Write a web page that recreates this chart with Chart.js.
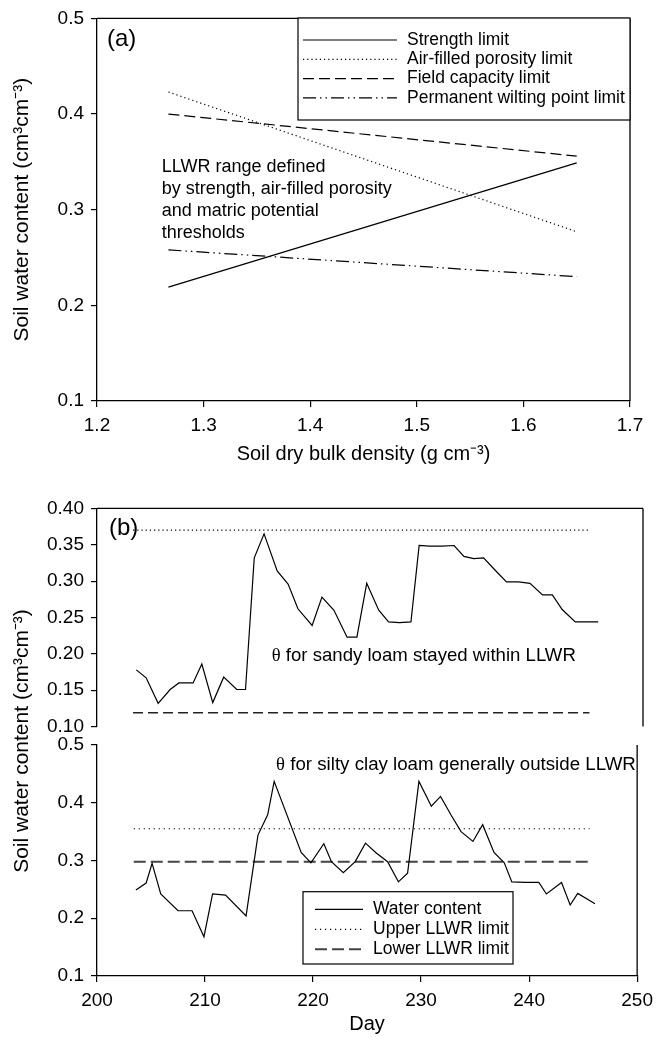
<!DOCTYPE html>
<html>
<head>
<meta charset="utf-8">
<script src="https://cdn.jsdelivr.net/npm/chart.js@4.4.1/dist/chart.umd.min.js"></script>
<style>
    html, body { margin: 0; padding: 0; background: #fff; }
    #wrap { position: relative; width: 660px; height: 1037px; overflow: hidden; }
    canvas { position: absolute; left: 0; }
</style>
</head>
<body>
<div id="wrap">
    <canvas id="chartA" width="660" height="480" style="top:0"></canvas>
    <canvas id="chartLower" width="660" height="547" style="top:490px"></canvas>
    <canvas id="chartUpper" width="660" height="255" style="top:490px"></canvas>
</div>
<script>
// panel (a): limits against bulk density
const densityEnds = [1.267, 1.65];
const strengthLimit = [0.219, 0.349];
const airFilledLimit = [0.423, 0.277];
const fieldCapacityLimit = [0.400, 0.356];
const wiltingPointLimit = [0.258, 0.230];
const densityTicks = [1.2, 1.3, 1.4, 1.5, 1.6, 1.7];
const thetaTicksA = [0.1, 0.2, 0.3, 0.4, 0.5];

// panel (b) top: sandy loam
const sandyDays = [203.6, 204.5, 205.6, 206.7, 207.5, 208.8, 209.6, 210.6, 211.6, 212.8, 213.6, 214.4, 215.3, 216.5, 217.5,
    218.4, 219.7, 220.6, 221.7, 222.9, 223.8, 224.7, 225.8, 226.7, 227.7, 228.75, 229.5, 230.4, 231.6, 232.7,
    233.6, 234.5, 235.4, 236.4, 237.5, 238.6, 239.65, 240.8, 241.7, 242.6, 243.8, 244.8, 245.9];
const sandyTheta = [0.178, 0.167, 0.132, 0.151, 0.160, 0.160, 0.186, 0.133, 0.168, 0.151, 0.151, 0.332, 0.365, 0.314, 0.296,
    0.262, 0.239, 0.278, 0.260, 0.223, 0.223, 0.297, 0.260, 0.244, 0.243, 0.244, 0.349, 0.348, 0.348, 0.349,
    0.334, 0.331, 0.332, 0.316, 0.299, 0.299, 0.297, 0.281, 0.281, 0.261, 0.244, 0.244, 0.244];
const sandyLimitDays = [203.3, 245.1];
const sandyUpper = [0.370, 0.370];
const sandyLower = [0.119, 0.119];
const thetaTicksSandy = [0.10, 0.15, 0.20, 0.25, 0.30, 0.35, 0.40];

// panel (b) bottom: silty clay loam
const siltyDays = [203.6, 204.55, 205.1, 205.9, 207.5, 208.8, 209.9, 210.7, 211.9, 213.8, 214.9, 215.8, 216.4, 218.9, 219.8,
    221.0, 221.7, 222.8, 223.9, 224.85, 225.85, 226.9, 227.9, 228.75, 229.8, 230.95, 231.8, 232.8, 233.7, 234.8,
    235.7, 236.75, 237.7, 238.4, 239.65, 240.9, 241.6, 243.0, 243.8, 244.5, 246.1];
const siltyTheta = [0.249, 0.261, 0.295, 0.242, 0.213, 0.213, 0.168, 0.242, 0.240, 0.204, 0.344, 0.379, 0.437, 0.314, 0.296,
    0.329, 0.298, 0.279, 0.298, 0.330, 0.313, 0.298, 0.263, 0.278, 0.437, 0.394, 0.411, 0.378, 0.350, 0.333,
    0.362, 0.314, 0.296, 0.263, 0.262, 0.262, 0.242, 0.262, 0.223, 0.243, 0.225];
const siltyLimitDays = [203.4, 245.6];
const siltyUpper = [0.355, 0.355];
const siltyLower = [0.298, 0.298];
const thetaTicksSilty = [0.1, 0.2, 0.3, 0.4, 0.5];
const dayTicks = [200, 210, 220, 230, 240, 250];

const SANS = '"Liberation Sans", Arial, sans-serif';
const SERIF = '"Liberation Serif", "Times New Roman", serif';
const pts = (xs, ys) => xs.map((x, i) => ({ x, y: ys[i] }));

const framePlugin = {
    id: 'frame',
    afterDatasetsDraw(chart, args, opts) {
        const { ctx, chartArea: a } = chart;
        ctx.save();
        ctx.strokeStyle = opts.color || '#000';
        ctx.lineWidth = opts.width || 1.3;
        ctx.beginPath();
        (opts.sides || []).forEach(s => {
            if (s === 'top') { ctx.moveTo(a.left, a.top); ctx.lineTo(a.right, a.top); }
            if (s === 'right') { ctx.moveTo(a.right, a.top); ctx.lineTo(a.right, a.bottom); }
        });
        ctx.stroke();
        ctx.restore();
    }
};

// free text placed in data coordinates
const notesPlugin = {
    id: 'notes',
    afterDraw(chart, args, opts) {
        const { ctx, scales } = chart;
        ctx.save();
        ctx.fillStyle = '#000';
        (opts.items || []).forEach(it => {
            const x = scales.x.getPixelForValue(it.x);
            const y = scales.y.getPixelForValue(it.y);
            ctx.textBaseline = it.baseline || 'alphabetic';
            it.lines.forEach((line, i) => {
                let cx = x;
                if (it.symbol && i === 0) {
                    ctx.font = `${it.size}px ${SERIF}`;
                    ctx.fillText(it.symbol, cx, y);
                    cx += ctx.measureText(it.symbol).width;
                }
                ctx.font = `${it.size}px ${SANS}`;
                ctx.fillText(line, cx, y + i * (it.lineHeight || 0));
            });
        });
        ctx.restore();
    }
};

// boxed legend built from the chart's own datasets
const boxLegendPlugin = {
    id: 'boxLegend',
    afterDraw(chart, args, o) {
        if (!o.width) return;
        const { ctx } = chart;
        ctx.save();
        ctx.fillStyle = '#fff';
        ctx.fillRect(o.left, o.top, o.width, o.height);
        ctx.strokeStyle = '#000';
        ctx.lineWidth = 1.2;
        ctx.strokeRect(o.left, o.top, o.width, o.height);
        ctx.font = `${o.size}px ${SANS}`;
        ctx.textBaseline = 'middle';
        chart.data.datasets.forEach((ds, i) => {
            const y = o.top + o.firstRow + i * o.rowStep;
            ctx.save();
            ctx.strokeStyle = ds.borderColor;
            ctx.lineWidth = ds.borderWidth;
            ctx.setLineDash(ds.borderDash || []);
            ctx.beginPath();
            ctx.moveTo(o.left + o.lineStart, y);
            ctx.lineTo(o.left + o.lineEnd, y);
            ctx.stroke();
            ctx.restore();
            ctx.fillStyle = '#000';
            ctx.fillText(ds.label, o.left + o.textStart, y);
        });
        ctx.restore();
    }
};

// shared y title for panel (b)
const sideTitlePlugin = {
    id: 'sideTitle',
    afterDraw(chart, args, o) {
        if (!o.text) return;
        const { ctx } = chart;
        ctx.save();
        ctx.translate(o.x, o.y);
        ctx.rotate(-Math.PI / 2);
        ctx.font = `${o.size}px ${SANS}`;
        ctx.fillStyle = '#000';
        ctx.textAlign = 'center';
        ctx.textBaseline = 'middle';
        ctx.fillText(o.text, 0, 0);
        ctx.restore();
    }
};

function axis(min, max, tickVals, digits, extra) {
    return Object.assign({
        type: 'linear',
        min, max,
        afterBuildTicks: s => { s.ticks = tickVals.map(v => ({ value: v })); },
        ticks: { color: '#000', font: { family: SANS, size: 19 }, padding: 7, maxRotation: 0, autoSkip: false,
            callback: v => Number(v).toFixed(digits) },
        grid: { display: true, drawOnChartArea: false, drawTicks: true, tickLength: 6, color: '#000', tickColor: '#000', lineWidth: 1.2 },
        border: { display: true, color: '#000', width: 1.3 }
    }, extra || {});
}

const baseOptions = {
    responsive: false,
    animation: false,
    events: [],
    elements: { point: { radius: 0 }, line: { tension: 0, fill: false } }
};

function limitLine(label, xs, ys, dash, width, color) {
    return { label, data: pts(xs, ys), borderColor: color || '#000', borderWidth: width || 1.2, borderDash: dash };
}

// ---------- panel (a)
new Chart(document.getElementById('chartA'), {
    type: 'line',
    data: {
        datasets: [
            limitLine('Strength limit', densityEnds, strengthLimit, []),
            limitLine('Air-filled porosity limit', densityEnds, airFilledLimit, [1.2, 3]),
            limitLine('Field capacity limit', densityEnds, fieldCapacityLimit, [11, 5]),
            limitLine('Permanent wilting point limit', densityEnds, wiltingPointLimit, [13, 4, 1.5, 4, 1.5, 4])
        ]
    },
    options: Object.assign({}, baseOptions, {
        layout: { padding: { top: 18, right: 30, left: 0, bottom: 0 } },
        scales: {
            x: axis(1.2, 1.7, densityTicks, 1, {
                title: { display: true, text: 'Soil dry bulk density (g cm⁻³)', color: '#000', font: { family: SANS, size: 20 }, padding: { bottom: 14 } },
                afterFit: s => { s.height = 79; }
            }),
            y: axis(0.1, 0.5, thetaTicksA, 1, {
                title: { display: true, text: 'Soil water content (cm³cm⁻³)', color: '#000', font: { family: SANS, size: 21 }, padding: { top: 10 } },
                afterFit: s => { s.width = 97; }
            })
        },
        plugins: {
            legend: { display: false },
            tooltip: { enabled: false },
            frame: { sides: ['top', 'right'] },
            boxLegend: { left: 298, top: 18, width: 332, height: 102, firstRow: 22, rowStep: 19.3, lineStart: 5, lineEnd: 99, textStart: 109, size: 17.5 },
            notes: {
                items: [
                    { x: 1.2094, y: 0.4778, lines: ['(a)'], size: 24, baseline: 'middle' },
                    { x: 1.2607, y: 0.3393, size: 18, lineHeight: 21.8,
                        lines: ['LLWR range defined', 'by strength, air-filled porosity', 'and matric potential', 'thresholds'] }
                ]
            }
        }
    }),
    plugins: [framePlugin, boxLegendPlugin, notesPlugin]
});

// ---------- panel (b), silty clay loam (drawn first, canvas spans the whole panel for the shared title)
new Chart(document.getElementById('chartLower'), {
    type: 'line',
    data: {
        datasets: [
            limitLine('Water content', siltyDays, siltyTheta, []),
            limitLine('Upper LLWR limit', siltyLimitDays, siltyUpper, [1.2, 3.8]),
            limitLine('Lower LLWR limit', siltyLimitDays, siltyLower, [12, 5], 2, '#444')
        ]
    },
    options: Object.assign({}, baseOptions, {
        layout: { padding: { top: 255, right: 17, left: 0, bottom: 0 } },
        scales: {
            x: axis(200, 250, dayTicks, 0, {
                title: { display: true, text: 'Day', color: '#000', font: { family: SANS, size: 20 }, padding: { bottom: 1 } },
                afterFit: s => { s.height = 61; }
            }),
            y: axis(0.1, 0.5, thetaTicksSilty, 1, {
                afterFit: s => { s.width = 97; }
            })
        },
        plugins: {
            legend: { display: false },
            tooltip: { enabled: false },
            frame: { sides: ['right'] },
            boxLegend: { left: 303, top: 401.7, width: 210, height: 72.3, firstRow: 17.6, rowStep: 20, lineStart: 12, lineEnd: 60, textStart: 70, size: 17.5 },
            sideTitle: { text: 'Soil water content (cm³cm⁻³)', x: 22, y: 251, size: 21 },
            notes: {
                items: [
                    { x: 216.58, y: 0.4567, symbol: 'θ', lines: [' for silty clay loam generally outside LLWR'], size: 18.7 }
                ]
            }
        }
    }),
    plugins: [framePlugin, boxLegendPlugin, notesPlugin, sideTitlePlugin]
});

// ---------- panel (b), sandy loam
new Chart(document.getElementById('chartUpper'), {
    type: 'line',
    data: {
        datasets: [
            limitLine('Water content', sandyDays, sandyTheta, []),
            limitLine('Upper LLWR limit', sandyLimitDays, sandyUpper, [1.2, 3]),
            limitLine('Lower LLWR limit', sandyLimitDays, sandyLower, [10, 5], 1.5, '#222')
        ]
    },
    options: Object.assign({}, baseOptions, {
        layout: { padding: { top: 18, right: 17, left: 0, bottom: 0 } },
        scales: {
            x: axis(200, 250, dayTicks, 0, { display: false }),
            y: axis(0.10, 0.40, thetaTicksSandy, 2, {
                afterFit: s => { s.width = 97; }
            })
        },
        plugins: {
            legend: { display: false },
            tooltip: { enabled: false },
            frame: { sides: ['top', 'right'] },
            notes: {
                items: [
                    { x: 201.1, y: 0.3725, lines: ['(b)'], size: 24, baseline: 'middle' },
                    { x: 216.0, y: 0.1902, symbol: 'θ', lines: [' for sandy loam stayed within LLWR'], size: 18.6 }
                ]
            }
        }
    }),
    plugins: [framePlugin, notesPlugin]
});
</script>
</body>
</html>
